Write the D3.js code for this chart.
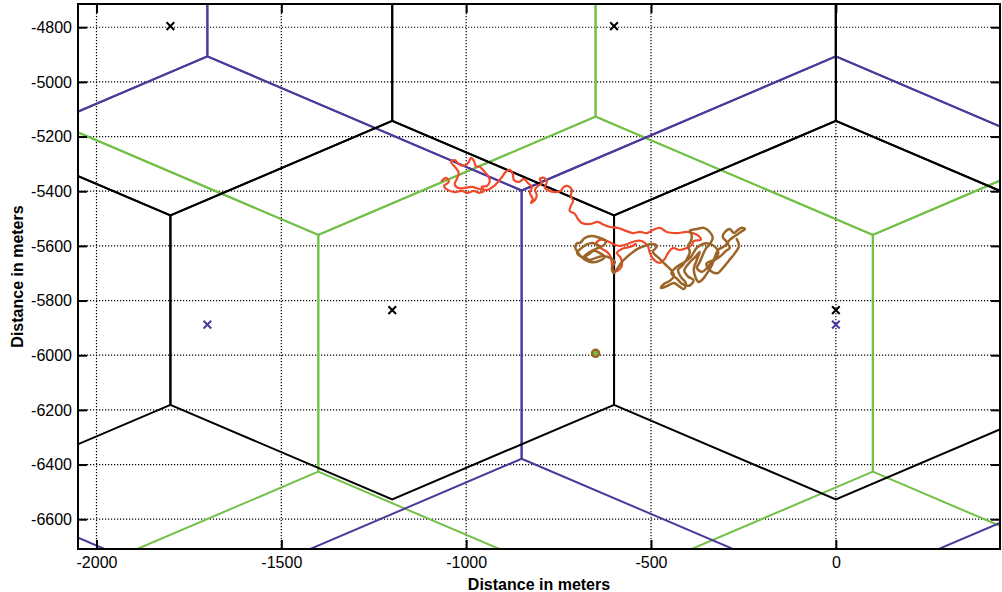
<!DOCTYPE html>
<html>
<head>
<meta charset="utf-8">
<script src="https://cdn.jsdelivr.net/npm/d3@7"></script>
<style>
  body { margin: 0; background: #fff; }
  svg { display: block; }
  text { font-family: "Liberation Sans", Arial, Helvetica, sans-serif; }
</style>
</head>
<body>
<svg id="chart" width="1002" height="592"></svg>
<script>
// Axis extents and tick values (meters)
const xDomain = [-2050, 444];
const yDomain = [-6709, -4715];
const xTicks = [-2000, -1500, -1000, -500, 0];
const yTicks = [-4800, -5000, -5200, -5400, -5600, -5800, -6000, -6200, -6400, -6600];

// Hexagonal cell layouts: centres and circumradius (pointy-top hexagons)
const blackRadius = 692.8;
const blackCells = [
  [-2400, -5835], [-1200, -5835], [0, -5835], [1200, -5835],
  [-3000, -4796], [-1800, -4796], [-600, -4796], [600, -4796]
];
const purpleRadius = 981.5;
const purpleCells = [
  [-3400, -5888], [-1700, -5888], [0, -5888], [1700, -5888],
  [-2550, -4416], [-850, -4416], [850, -4416]
];
const greenRadius = 866;
const greenCells = [
  [-2150, -5993], [-650, -5993], [850, -5993],
  [-2900, -4694], [-1400, -4694], [100, -4694], [1600, -4694]
];

// Site markers
const blackSites = [[-1800, -4796], [-600, -4796], [-1200, -5835], [0, -5835]];
const purpleSites = [[-1700, -5888], [0, -5888]];
const greenSite = [-650, -5993];

// Measured tracks (meters)
const redTrack = [
  [-1066,-5362],[-1055,-5351],[-1047,-5366],[-1060,-5381],[-1050,-5395],[-1031,-5403],[-1012,-5399],
  [-995,-5406],[-979,-5399],[-966,-5406],[-952,-5399],[-958,-5384],[-944,-5381],[-936,-5362],
  [-941,-5344],[-952,-5326],[-963,-5311],[-974,-5308],[-979,-5289],[-987,-5278],[-993,-5293],
  [-1001,-5304],[-1017,-5304],[-1031,-5286],[-1041,-5293],[-1028,-5315],[-1020,-5333],[-1025,-5355],
  [-1031,-5373],[-1022,-5388],[-1004,-5388],[-985,-5384],[-963,-5392],[-941,-5395],[-925,-5381],
  [-914,-5366],[-903,-5348],[-893,-5329],[-882,-5322],[-874,-5337],[-871,-5359],[-857,-5366],
  [-844,-5355],[-833,-5370],[-822,-5384],[-828,-5406],[-820,-5428],[-825,-5443],[-814,-5432],
  [-809,-5414],[-814,-5395],[-806,-5381],[-795,-5370],[-801,-5355],[-790,-5351],[-782,-5366],
  [-787,-5388],[-774,-5399],[-757,-5403],[-744,-5399],[-736,-5384],[-725,-5381],[-714,-5395],
  [-717,-5417],[-711,-5436],[-717,-5454],[-720,-5472],[-706,-5483],[-698,-5501],[-687,-5516],
  [-665,-5520],[-644,-5512],[-628,-5523],[-611,-5531],[-590,-5534],[-568,-5545],[-549,-5553],
  [-530,-5549],[-511,-5553],[-495,-5542],[-476,-5534],[-457,-5549],[-430,-5553],[-403,-5549],
  [-387,-5553],[-371,-5564],[-365,-5578],[-384,-5582],[-390,-5597],[-403,-5608],[-422,-5615],
  [-441,-5608],[-454,-5626],[-463,-5648],[-476,-5662],[-492,-5651],[-503,-5626],[-509,-5600],
  [-525,-5582],[-541,-5582],[-563,-5593],[-584,-5600],[-603,-5593],[-619,-5582],[-638,-5578],
  [-649,-5593],[-636,-5608],[-619,-5622],[-609,-5640],[-606,-5666],[-603,-5688],[-592,-5692],
  [-579,-5673],[-582,-5644],[-592,-5626],[-579,-5611],[-557,-5604],[-541,-5593]
];
const brownTrack = [
  [-640,-5600],[-655,-5590],[-675,-5595],[-690,-5610],[-700,-5625],[-688,-5640],[-670,-5632],
  [-655,-5618],[-640,-5625],[-625,-5640],[-640,-5655],[-660,-5660],[-680,-5650],[-695,-5630],
  [-705,-5605],[-700,-5590],
  [-692,-5589],[-679,-5571],[-660,-5564],[-638,-5571],[-622,-5582],[-630,-5600],[-649,-5611],
  [-665,-5622],[-679,-5637],[-668,-5651],[-649,-5644],[-630,-5637],[-611,-5644],[-598,-5659],
  [-606,-5681],[-601,-5699],[-590,-5681],[-579,-5659],[-565,-5640],[-552,-5626],[-536,-5611],
  [-517,-5600],[-498,-5593],[-484,-5600],[-495,-5622],[-479,-5644],[-463,-5666],[-446,-5688],
  [-438,-5710],[-449,-5728],[-465,-5739],[-473,-5754],[-457,-5747],[-438,-5736],[-425,-5747],
  [-411,-5758],[-406,-5736],[-419,-5714],[-427,-5688],[-414,-5670],[-403,-5648],[-395,-5622],
  [-400,-5600],[-392,-5582],[-390,-5560],[-395,-5545],[-376,-5538],[-357,-5534],[-341,-5549],
  [-333,-5571],[-341,-5593],[-352,-5611],[-360,-5633],[-368,-5659],[-376,-5681],[-362,-5695],
  [-349,-5681],[-335,-5659],[-319,-5644],[-308,-5633],[-298,-5619],[-287,-5608],[-295,-5586],
  [-306,-5567],[-300,-5549],[-287,-5538],[-276,-5553],[-265,-5542],[-254,-5534],[-246,-5538],
  [-257,-5549],[-273,-5564],[-287,-5578],[-300,-5600],[-319,-5615],[-327,-5640],[-335,-5670],
  [-346,-5695],[-357,-5717],[-371,-5732],[-381,-5710],[-384,-5681],[-376,-5651],[-368,-5622],
  [-380,-5640],[-395,-5660],[-410,-5690],[-400,-5712],[-385,-5725],[-395,-5745],[-415,-5740],
  [-430,-5720],[-445,-5700],[-430,-5676],[-410,-5660],[-392,-5640],[-375,-5605],[-350,-5590],
  [-330,-5600],[-318,-5625],[-330,-5650],[-350,-5665],[-340,-5690],[-320,-5700],[-305,-5680],
  [-290,-5655],[-275,-5630],[-262,-5600],[-268,-5575]
];

const COLORS = {
  black: "#000000",
  purple: "#4b3a9b",
  green: "#72c046",
  red: "#f04a2a",
  brown: "#9b6528"
};

const svg = d3.select("#chart");
const plot = { left: 78, right: 1000, top: 4, bottom: 549 };

const x = d3.scaleLinear().domain(xDomain).range([plot.left, plot.right]);
const y = d3.scaleLinear().domain(yDomain).range([plot.bottom, plot.top]);

svg.append("rect").attr("width", 1002).attr("height", 592).attr("fill", "#fff");

svg.append("clipPath").attr("id", "plot-clip")
  .append("rect")
  .attr("x", plot.left).attr("y", plot.top)
  .attr("width", plot.right - plot.left).attr("height", plot.bottom - plot.top);

// Dotted grid
const grid = svg.append("g").attr("stroke", "#000").attr("stroke-width", 1.2)
  .attr("stroke-dasharray", "1.2,1.8");
grid.selectAll("line.v").data(xTicks).join("line")
  .attr("x1", d => x(d)).attr("x2", d => x(d))
  .attr("y1", plot.top).attr("y2", plot.bottom);
grid.selectAll("line.h").data(yTicks).join("line")
  .attr("y1", d => y(d)).attr("y2", d => y(d))
  .attr("x1", plot.left).attr("x2", plot.right);

// Hexagon outline in data space
function hexagon(c, r) {
  const pts = [];
  for (let k = 0; k < 6; k++) {
    const a = Math.PI / 6 + k * Math.PI / 3;
    pts.push([c[0] + r * Math.cos(a), c[1] + r * Math.sin(a)]);
  }
  return pts;
}
const hexLine = d3.line().x(d => x(d[0])).y(d => y(d[1])).curve(d3.curveLinearClosed);

const cells = svg.append("g").attr("clip-path", "url(#plot-clip)").attr("fill", "none")
  .attr("stroke-width", 2).attr("stroke-linejoin", "miter");

function drawCells(centres, radius, color) {
  cells.append("g").attr("stroke", color)
    .selectAll("path").data(centres).join("path")
    .attr("d", c => hexLine(hexagon(c, radius)));
}
drawCells(greenCells, greenRadius, COLORS.green);
drawCells(purpleCells, purpleRadius, COLORS.purple);
drawCells(blackCells, blackRadius, COLORS.black);

// Site markers
const cross = d3.symbol(d3.symbolTimes, 40);
svg.append("g").attr("stroke", COLORS.black).attr("stroke-width", 2).attr("fill", "none")
  .selectAll("path").data(blackSites).join("path")
  .attr("transform", d => `translate(${x(d[0])},${y(d[1])})`).attr("d", cross);
svg.append("g").attr("stroke", COLORS.purple).attr("stroke-width", 2).attr("fill", "none")
  .selectAll("path").data(purpleSites).join("path")
  .attr("transform", d => `translate(${x(d[0])},${y(d[1])})`).attr("d", cross);

// Tracks
const trackLine = d3.line().x(d => x(d[0])).y(d => y(d[1])).curve(d3.curveCatmullRom.alpha(0.5));
const tracks = svg.append("g").attr("clip-path", "url(#plot-clip)").attr("fill", "none")
  .attr("stroke-linejoin", "round").attr("stroke-linecap", "round");
tracks.append("path").datum(redTrack).attr("stroke", COLORS.red).attr("stroke-width", 2.2).attr("d", trackLine);
tracks.append("path").datum(brownTrack).attr("stroke", COLORS.brown).attr("stroke-width", 2.5).attr("d", trackLine);

svg.append("circle")
  .attr("cx", x(greenSite[0])).attr("cy", y(greenSite[1])).attr("r", 3.6)
  .attr("fill", COLORS.green).attr("stroke", COLORS.brown).attr("stroke-width", 2.4);

// Axes with inward ticks on all four sides
const plainNumber = d => String(d);
function styleAxis(g) {
  g.select(".domain").remove();
  g.selectAll(".tick line").attr("stroke", "#000").attr("stroke-width", 2);
  g.selectAll(".tick text").attr("fill", "#000").style("font-size", "16px")
    .style("font-family", "'Liberation Sans', Arial, Helvetica, sans-serif");
}
svg.append("g").attr("transform", `translate(0,${plot.bottom})`)
  .call(d3.axisBottom(x).tickValues(xTicks).tickFormat(plainNumber).tickSize(-9).tickPadding(8))
  .call(styleAxis);
svg.append("g").attr("transform", `translate(0,${plot.top})`)
  .call(d3.axisTop(x).tickValues(xTicks).tickFormat("").tickSize(-9))
  .call(styleAxis);
svg.append("g").attr("transform", `translate(${plot.left},0)`)
  .call(d3.axisLeft(y).tickValues(yTicks).tickFormat(plainNumber).tickSize(-9).tickPadding(6))
  .call(styleAxis);
svg.append("g").attr("transform", `translate(${plot.right},0)`)
  .call(d3.axisRight(y).tickValues(yTicks).tickFormat("").tickSize(-9))
  .call(styleAxis);

// Frame
svg.append("rect")
  .attr("x", plot.left).attr("y", plot.top)
  .attr("width", plot.right - plot.left).attr("height", plot.bottom - plot.top)
  .attr("fill", "none").attr("stroke", "#000").attr("stroke-width", 2);

// Axis titles
svg.append("text")
  .attr("x", (plot.left + plot.right) / 2).attr("y", 590)
  .attr("text-anchor", "middle").attr("font-weight", "bold").attr("font-size", 16)
  .text("Distance in meters");
svg.append("text")
  .attr("transform", `translate(23,${(plot.top + plot.bottom) / 2}) rotate(-90)`)
  .attr("text-anchor", "middle").attr("font-weight", "bold").attr("font-size", 16)
  .text("Distance in meters");
</script>
</body>
</html>
